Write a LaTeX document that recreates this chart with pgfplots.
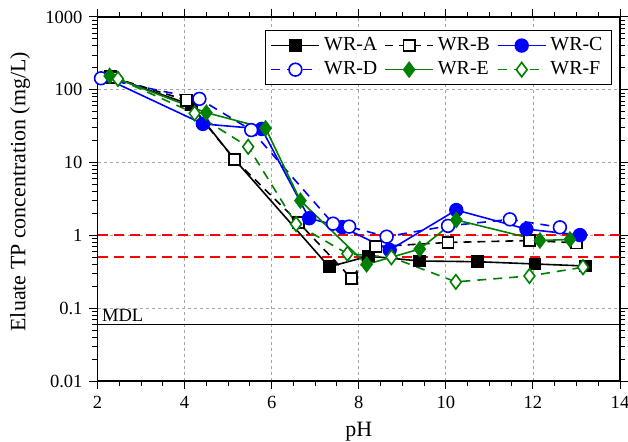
\documentclass[border=0pt]{standalone}
\usepackage{fontspec}
\setmainfont{Liberation Serif}
\usepackage{pgfplots}
\pgfplotsset{compat=1.18}
\definecolor{wrblue}{RGB}{0,0,255}
\definecolor{wrgreen}{RGB}{0,128,0}
\definecolor{limred}{RGB}{255,0,0}

\begin{document}
\begin{tikzpicture}
\begin{axis}[
    set layers,
    scale only axis,
    width=261.25bp, height=182bp,
    xmin=2, xmax=14,
    ymode=log, ymin=0.01, ymax=1000,
    xtick={2,4,...,14}, minor x tick num=3,
    ytick={0.01,0.1,1,10,100,1000},
    yticklabels={0.01,0.1,1,10,100,1000},
    tick align=outside, tick pos=both,
    major tick length=4bp, minor tick length=2.5bp,
    every tick/.style={black, line width=0.5bp},
    grid=major,
    grid style={dash pattern=on 1.5bp off 1.5bp, gray!70, line width=0.4bp},
    axis line style={line width=0.6bp},
    xlabel={pH},
    ylabel={Eluate TP concentration (mg/L)},
    every axis x label/.style={at={(axis description cs:0.5,0)}, anchor=center, yshift=-25.5bp},
    every axis y label/.style={at={(axis description cs:-0.1483,0.52)}, rotate=90, anchor=center},
    label style={font=\fontsize{11}{13}\selectfont},
    tick label style={font=\fontsize{9.3}{11}\selectfont},
    /pgf/number format/assume math mode=true,
    legend columns=3,
    legend cell align=left,
    legend image code/.code={\draw[mark repeat=2,mark phase=2] plot coordinates {(0bp,0bp) (12bp,0bp) (24bp,0bp)};},
    legend style={at={(1,1)}, anchor=north east, xshift=-4bp, yshift=-6.5bp,
        draw=black, line width=0.5bp, font=\fontsize{10}{12}\selectfont,
        inner xsep=2.5bp, inner ysep=1.5bp,
        /tikz/every even column/.append style={column sep=1.5bp}},
]
% limits
\addplot[limred, line width=1bp, dash pattern=on 5bp off 3bp, forget plot] coordinates {(2,1) (14,1)};
\addplot[limred, line width=1bp, dash pattern=on 5bp off 3bp, forget plot] coordinates {(2,0.5) (14,0.5)};
\addplot[black, line width=0.6bp, forget plot] coordinates {(2,0.06) (14,0.06)};
\node[anchor=south west, inner sep=1bp, font=\fontsize{9.3}{11}\selectfont] at (axis cs:2.05,0.06) {MDL};

\addplot[black, line width=0.8bp, mark=square*, mark size=2.8bp] coordinates {
    (2.30,152) (4.15,62) (5.15,11) (7.32,0.37) (8.23,0.52) (9.40,0.445) (10.73,0.435) (12.05,0.405) (13.20,0.38)};
\addlegendentry{WR-A}
\addplot[black, line width=0.8bp, dash pattern=on 4bp off 3bp, mark=square*, mark size=2.8bp, mark options={solid, fill=white}] coordinates {
    (2.35,148) (4.04,72) (5.15,11) (6.62,1.5) (7.83,0.257) (8.39,0.70) (10.05,0.80) (11.92,0.85) (13.00,0.79)};
\addlegendentry{WR-B}
\addplot[wrblue, line width=0.8bp, mark=*, mark size=3.2bp] coordinates {
    (1.97,165) (4.42,34) (5.77,29) (6.86,1.72) (7.62,1.3) (8.71,0.63) (10.24,2.23) (11.85,1.22) (13.08,1.01)};
\addlegendentry{WR-C}
\addplot[wrblue, line width=0.8bp, dash pattern=on 4.5bp off 3.5bp, mark=*, mark size=3.2bp, mark options={solid, fill=white}] coordinates {
    (2.08,144) (4.34,75) (5.53,28) (7.41,1.45) (7.78,1.32) (8.64,0.96) (10.05,1.35) (11.47,1.66) (12.62,1.29)};
\addlegendentry{WR-D}
\addplot[wrgreen, line width=0.8bp, mark=diamond*, mark size=3.6bp] coordinates {
    (2.28,155) (4.50,48.5) (5.86,29.6) (6.66,3.0) (8.18,0.40) (9.40,0.65) (10.24,1.63) (12.16,0.85) (12.85,0.88)};
\addlegendentry{WR-E}
\addplot[wrgreen, line width=0.8bp, dash pattern=on 4.5bp off 3.5bp, mark=diamond*, mark size=3.6bp, mark options={solid, fill=white}] coordinates {
    (2.47,141) (4.23,47.5) (5.46,16.5) (6.56,1.43) (7.74,0.56) (8.75,0.50) (10.23,0.23) (11.92,0.277) (13.15,0.365)};
\addlegendentry{WR-F}
\end{axis}
\pgfresetboundingbox
\path[use as bounding box] ([shift={(-48.75bp,-30.5bp)}]current axis.south west) rectangle ([shift={(4bp,8.5bp)}]current axis.north east);
\end{tikzpicture}
\end{document}
